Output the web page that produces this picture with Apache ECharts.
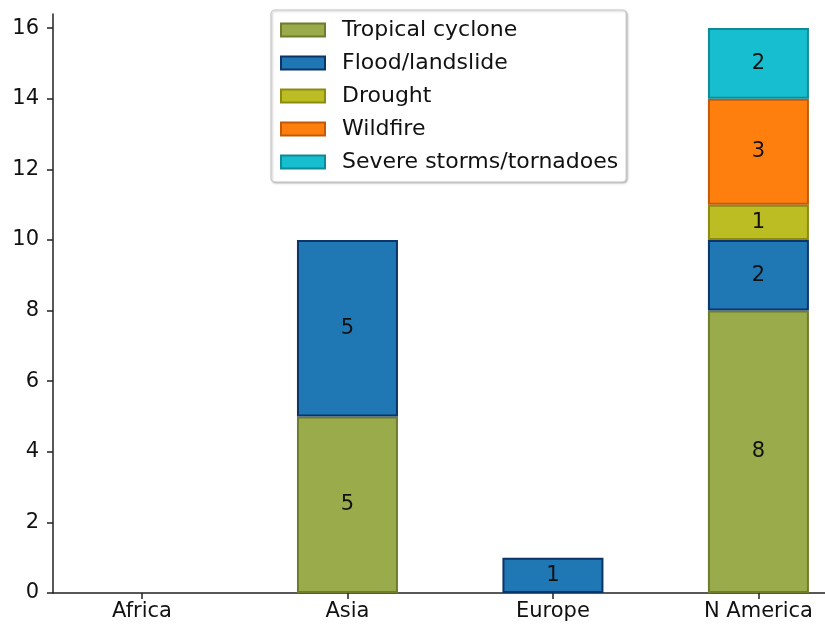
<!DOCTYPE html>
<html>
<head>
<meta charset="utf-8">
<script src="https://cdn.jsdelivr.net/npm/echarts@6/dist/echarts.min.js"></script>
<style>html,body{margin:0;padding:0;background:#fff}#c{width:825px;height:628px}</style>
</head>
<body>
<div id="c"></div>
<script>
const categories = ['Africa', 'Asia', 'Europe', 'N America'];
const tropicalCyclone = [null, 5, null, 8];
const floodLandslide = [null, 5, 1, 2];
const drought = [null, null, null, 1];
const wildfire = [null, null, null, 3];
const severeStorms = [null, null, null, 2];
const yTicks = [0, 2, 4, 6, 8, 10, 12, 14, 16];

const FONT = 'DejaVu Sans';
const seriesDefs = [
  {name: 'Tropical cyclone', values: tropicalCyclone, color: '#9aab4b', edge: '#6e7d2c'},
  {name: 'Flood/landslide', values: floodLandslide, color: '#1f77b4', edge: '#0b3468'},
  {name: 'Drought', values: drought, color: '#bcbd22', edge: '#8a8b10'},
  {name: 'Wildfire', values: wildfire, color: '#ff7f0e', edge: '#c25a05'},
  {name: 'Severe storms/tornadoes', values: severeStorms, color: '#17becf', edge: '#0e8a98'}
];

const chart = echarts.init(document.getElementById('c'), null, {renderer: 'canvas'});
chart.setOption({
  animation: false,
  backgroundColor: '#fff',
  grid: {left: 53, top: 14, right: 0, height: 579, containLabel: false},
  legend: {
    orient: 'vertical',
    left: 271,
    top: 10,
    padding: [9, 8, 9, 9],
    itemWidth: 44,
    itemHeight: 13,
    itemGap: 11,
    borderColor: '#c8c8c8',
    borderWidth: 1.2,
    borderRadius: 4,
    backgroundColor: '#fff',
    shadowColor: 'rgba(0,0,0,0.25)',
    shadowBlur: 2,
    shadowOffsetX: 1,
    shadowOffsetY: 1,
    icon: 'rect',
    textStyle: {fontFamily: FONT, fontSize: 22, color: '#111', padding: [0, 0, 0, 12]},
    data: seriesDefs.map(s => s.name)
  },
  xAxis: {
    type: 'value',
    min: -0.433,
    max: 3.324,
    splitLine: {show: false},
    axisLine: {show: true, onZero: false, lineStyle: {color: '#222', width: 1.5}},
    axisTick: {show: true, length: 6, customValues: [0, 1, 2, 3], lineStyle: {color: '#222', width: 1.5}},
    axisLabel: {
      customValues: [0, 1, 2, 3],
      formatter: v => categories[Math.round(v)],
      fontFamily: FONT, fontSize: 21, color: '#111', margin: 8
    }
  },
  yAxis: {
    type: 'value',
    min: 0,
    max: 16.4,
    splitLine: {show: false},
    axisLine: {show: true, onZero: false, lineStyle: {color: '#222', width: 1.5}},
    axisTick: {show: true, length: 6, customValues: yTicks, lineStyle: {color: '#222', width: 1.5}},
    axisLabel: {customValues: yTicks, fontFamily: FONT, fontSize: 21, color: '#111', margin: 14}
  },
  series: seriesDefs.map(s => ({
    name: s.name,
    type: 'bar',
    stack: 'total',
    barWidth: 101,
    encode: {x: 1, y: 0},
    itemStyle: {color: s.color, borderColor: s.edge, borderWidth: 2},
    label: {show: true, position: 'inside', fontFamily: FONT, fontSize: 21, color: '#111',
      formatter: p => p.value[0]},
    data: s.values.map((v, i) => [v == null ? '-' : v, i])
  }))
});
</script>
</body>
</html>
